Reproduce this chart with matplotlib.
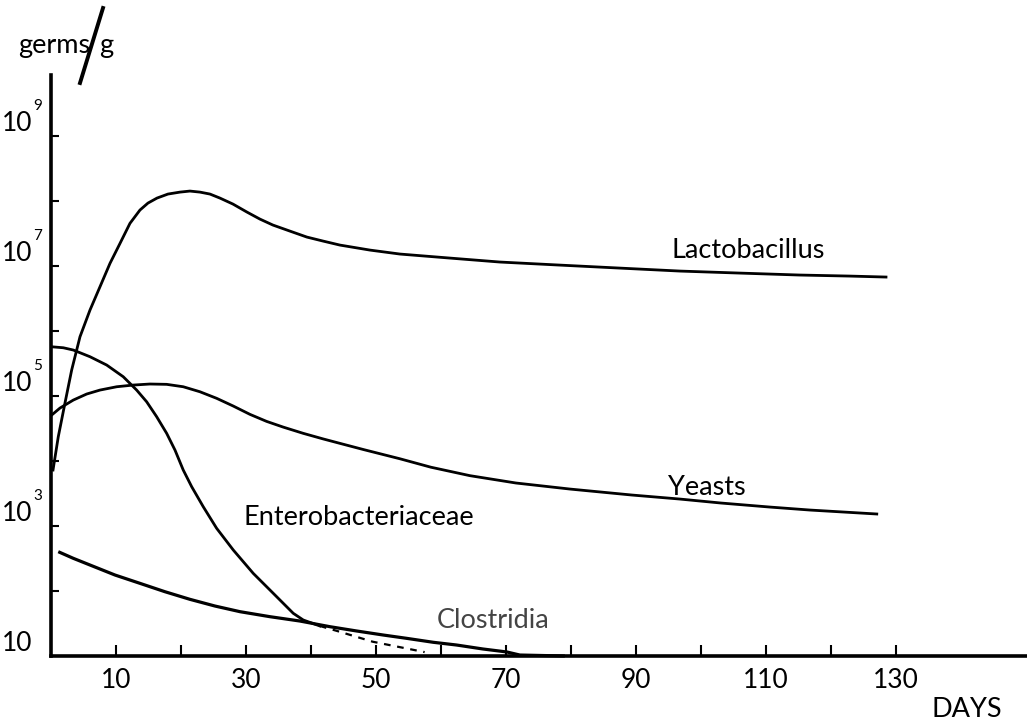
import numpy as np
import matplotlib
matplotlib.use("Agg")
import matplotlib.pyplot as plt
from matplotlib.transforms import offset_copy
from matplotlib.lines import Line2D

plt.rcParams['font.family'] = ['Lato', 'DejaVu Sans']

# ---------------- data (day, log10 germs/g) ----------------
lacto_days = [0.31, 1.12, 2.15, 3.18, 4.46, 6.0, 7.54, 9.08, 10.62, 12.15, 13.69, 14.92,
              16.31, 18.0, 19.85, 21.38, 22.92, 24.46, 26.0, 28.0, 30.15, 32.15, 34.15,
              36.77, 39.38, 41.85, 44.46, 49.08, 53.69, 61.38, 69.08, 78.3, 87.5, 96.8,
              106.0, 115.2, 122.9, 128.5]
lacto_log = [3.862, 4.374, 4.892, 5.40, 5.912, 6.323, 6.682, 7.042, 7.349, 7.657, 7.862,
             7.969, 8.046, 8.108, 8.138, 8.154, 8.138, 8.108, 8.046, 7.954, 7.831, 7.723,
             7.631, 7.538, 7.446, 7.385, 7.323, 7.246, 7.185, 7.123, 7.062, 7.015, 6.969,
             6.923, 6.892, 6.862, 6.846, 6.831]

yeast_days = [0.11, 1.38, 3.43, 5.49, 7.54, 10.11, 12.66, 15.23, 17.8, 20.35, 22.92, 25.49,
              28.05, 30.62, 33.18, 35.74, 38.82, 41.89, 44.46, 48.15, 53.69, 58.46, 64.46,
              71.54, 79.85, 89.38, 96.77, 103.08, 110.6, 116.77, 127.08]
yeast_log = [4.708, 4.815, 4.938, 5.031, 5.092, 5.143, 5.169, 5.185, 5.18, 5.143, 5.066,
             4.965, 4.846, 4.718, 4.610, 4.522, 4.426, 4.340, 4.272, 4.175, 4.035, 3.905,
             3.775, 3.662, 3.569, 3.477, 3.415, 3.354, 3.292, 3.246, 3.185]

entero_days = [0.11, 1.89, 3.43, 6.0, 8.57, 11.12, 13.18, 14.72, 16.26, 17.8, 19.08, 20.35,
               21.65, 23.43, 25.49, 28.05, 31.12, 34.2, 37.28, 38.82, 41.38]
entero_log = [5.758, 5.743, 5.708, 5.605, 5.477, 5.297, 5.092, 4.912, 4.682, 4.426, 4.169,
              3.862, 3.605, 3.297, 2.965, 2.631, 2.272, 1.965, 1.657, 1.554, 1.462]

entero_dash_days = [41.38, 44.2, 49.5, 57.5]
entero_dash_log = [1.462, 1.38, 1.22, 1.06]

clost_days = [1.12, 3.43, 6.0, 9.85, 13.69, 17.54, 21.38, 25.23, 29.08, 33.69, 38.31, 42.92,
              47.03, 51.12, 54.72, 58.82, 62.42, 66.46, 70.15, 72.15, 79.08]
clost_log = [2.605, 2.503, 2.40, 2.246, 2.118, 1.989, 1.872, 1.769, 1.682, 1.605, 1.538,
             1.451, 1.385, 1.323, 1.272, 1.211, 1.169, 1.108, 1.062, 1.015, 1.0]

x_ticks = list(range(10, 140, 10))
x_labels_at = [10, 30, 50, 70, 90, 110, 130]
y_decades = [2, 3, 4, 5, 6, 7, 8, 9]
y_labeled = [9, 7, 5, 3]

series_labels = ["Lactobacillus", "Yeasts", "Enterobacteriaceae", "Clostridia"]

# ---------------- figure ----------------
W, H = 1027, 725
fig = plt.figure(figsize=(W / 100, H / 100), dpi=100)
ax = fig.add_axes([51 / W, (H - 656) / H, (W - 51) / W, (656 - 75) / H])
ax.set_yscale('log')
ax.set_xlim(0, 150.2)
ax.set_ylim(10 ** 1, 10 ** 9.94)

lw = 2.0
ax.plot(lacto_days, 10 ** np.array(lacto_log), color='black', lw=lw, clip_on=False)
ax.plot(yeast_days, 10 ** np.array(yeast_log), color='black', lw=lw, clip_on=False)
ax.plot(entero_days, 10 ** np.array(entero_log), color='black', lw=lw, clip_on=False)
ax.plot(entero_dash_days, 10 ** np.array(entero_dash_log), color='black', lw=1.6,
        ls=(0, (3, 3)), clip_on=False)
ax.plot(clost_days, 10 ** np.array(clost_log), color='black', lw=2.3, clip_on=False,
        solid_capstyle='butt')

# spines
for s in ['top', 'right']:
    ax.spines[s].set_visible(False)
ax.spines['left'].set_linewidth(2.6)
ax.spines['bottom'].set_linewidth(2.6)

# ticks
ax.set_xticks(x_ticks)
ax.set_xticklabels([str(t) if t in x_labels_at else '' for t in x_ticks])
ax.tick_params(axis='x', direction='in', length=8, width=1.5, pad=9, labelsize=19)
ax.set_yticks([10 ** d for d in y_decades])
ax.yaxis.set_minor_locator(matplotlib.ticker.NullLocator())
ax.set_yticklabels([])
ax.tick_params(axis='y', direction='in', length=6, width=1.5)

# y labels: "10" with superscript exponent
ytr = ax.get_yaxis_transform()
for d in y_labeled + [1]:
    ax.text(-0.0195, 10 ** d, '10', transform=ytr, ha='right', va='bottom',
            fontsize=19)
    if d != 1:
        t2 = offset_copy(ytr, fig=fig, x=1, y=23, units='dots')
        ax.text(-0.0195, 10 ** d, str(d), transform=t2, ha='left', va='bottom',
                fontsize=11)

# series labels
def fx(px):
    return px / W

def fy(py):
    return 1 - py / H

fig.text(fx(672), fy(258), series_labels[0], fontsize=19.5, ha='left', va='baseline')
fig.text(fx(668), fy(495), series_labels[1], fontsize=19.5, ha='left', va='baseline')
fig.text(fx(243), fy(525), series_labels[2], fontsize=19.5, ha='left', va='baseline')
fig.text(fx(437), fy(628), series_labels[3], fontsize=19.5, ha='left', va='baseline',
         color='#444444')
fig.text(fx(932), fy(717), 'DAYS', fontsize=19.5, ha='left', va='baseline')

# axis unit label: germs / g with slanted slash
fig.text(fx(18), fy(53), 'germs', fontsize=19.5, ha='left', va='baseline')
fig.text(fx(99), fy(53), 'g', fontsize=19.5, ha='left', va='baseline')
fig.add_artist(Line2D([fx(80), fx(103)], [fy(83), fy(8)], color='black', lw=2.8,
                      transform=fig.transFigure))

fig.savefig('out.png', dpi=100)
